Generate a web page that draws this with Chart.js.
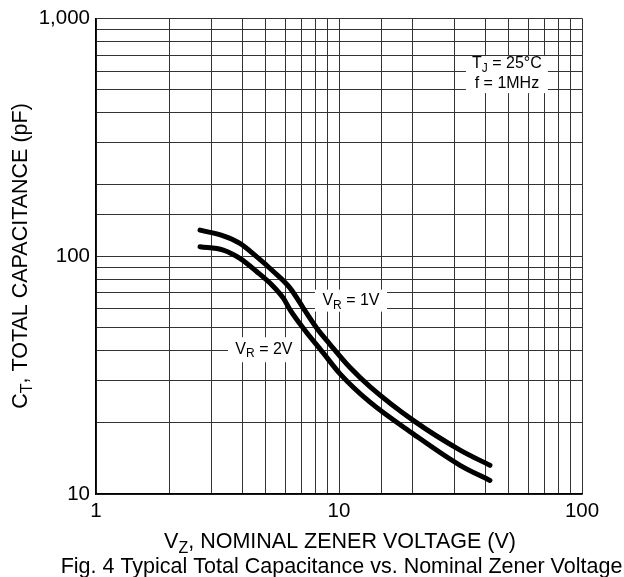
<!DOCTYPE html>
<html>
<head>
<meta charset="utf-8">
<script src="https://cdn.jsdelivr.net/npm/chart.js@4/dist/chart.umd.min.js"></script>
<style>
  html, body { margin: 0; padding: 0; background: #fff; }
</style>
</head>
<body>
<canvas id="graficoCap" width="624" height="577"></canvas>
<script>
// VR = 1V curve (upper)
const vz1 = [2.68, 3.34, 3.91, 4.58, 5.37, 6.29, 7.13, 8.09, 9.18, 11.1, 13.4, 20.2, 31.5, 41.8];
const ct1 = [128.6, 121.7, 113.1, 99.5, 86.2, 73.4, 60.5, 49.9, 42.6, 34.0, 28.3, 20.4, 15.3, 13.2];
// VR = 2V curve (lower)
const vz2 = [2.68, 3.34, 3.91, 4.58, 5.37, 5.90, 6.29, 7.13, 8.61, 10.1, 13.3, 20.2, 31.5, 41.8];
const ct2 = [109.6, 106.1, 97.9, 86.2, 74.6, 66.6, 59.5, 49.8, 39.2, 32.0, 24.5, 17.9, 13.2, 11.4];

const xLabels = [1, 10, 100];
const yLabels = [10, 100, 1000];

const FONT = '"Liberation Sans", Arial, sans-serif';

function drawRich(ctx, parts, x, y, size, align) {
    const subSize = Math.round(size * 0.75);
    let total = 0;
    parts.forEach(p => {
        ctx.font = (p.sub ? subSize : size) + 'px ' + FONT;
        total += ctx.measureText(p.t).width;
    });
    let cx = align === 'center' ? x - total / 2 : x;
    ctx.textAlign = 'left';
    ctx.textBaseline = 'middle';
    parts.forEach(p => {
        ctx.font = (p.sub ? subSize : size) + 'px ' + FONT;
        ctx.fillText(p.t, cx, p.sub ? y + size * 0.3 : y);
        cx += ctx.measureText(p.t).width;
    });
    return total;
}

const textos = {
    id: 'textos',
    beforeDatasetsDraw(chart) {
        const ctx = chart.ctx;
        const xs = chart.scales.x, ys = chart.scales.y;
        ctx.save();
        const notas = [
            { parts: [{ t: 'T' }, { t: 'J', sub: true }, { t: ' = 25°C' }], v: 49.1, c: 642 },
            { parts: [{ t: 'f = 1MHz' }], v: 49.1, c: 530 },
            { parts: [{ t: 'V' }, { t: 'R', sub: true }, { t: ' = 1V' }], v: 11.2, c: 65.0 },
            { parts: [{ t: 'V' }, { t: 'R', sub: true }, { t: ' = 2V' }], v: 4.91, c: 40.6 }
        ];
        // white boxes over the grid behind the notes
        ctx.fillStyle = '#fff';
        ctx.fillRect(xs.getPixelForValue(49.1) - 41, ys.getPixelForValue(642) - 8, 82, 37);
        ctx.fillRect(xs.getPixelForValue(11.2) - 36, ys.getPixelForValue(65.0) - 11, 72, 22);
        ctx.fillRect(xs.getPixelForValue(4.91) - 36, ys.getPixelForValue(40.6) - 12, 72, 25);
        ctx.fillStyle = '#000';
        notas.forEach(n => {
            drawRich(ctx, n.parts, xs.getPixelForValue(n.v), ys.getPixelForValue(n.c), 16, 'center');
        });
        ctx.restore();
    },
    afterDraw(chart) {
        const ctx = chart.ctx;
        ctx.save();
        ctx.fillStyle = '#000';
        drawRich(ctx, [{ t: 'V' }, { t: 'Z', sub: true }, { t: ', NOMINAL ZENER VOLTAGE (V)' }],
            340, 542, 21.5, 'center');
        drawRich(ctx, [{ t: 'Fig. 4 Typical Total Capacitance vs. Nominal Zener Voltage' }],
            341.5, 567, 21.5, 'center');
        ctx.translate(21, 256);
        ctx.rotate(-Math.PI / 2);
        drawRich(ctx, [{ t: 'C' }, { t: 'T', sub: true }, { t: ', TOTAL CAPACITANCE (pF)' }],
            0, 0, 21.5, 'center');
        ctx.restore();
    }
};

const curva = (xs, ys) => xs.map((v, i) => ({ x: v, y: ys[i] }));

new Chart(document.getElementById('graficoCap').getContext('2d'), {
    type: 'line',
    data: {
        datasets: [
            {
                label: 'VR = 1V',
                data: curva(vz1, ct1),
                borderColor: '#000',
                borderWidth: 5,
                pointRadius: 0,
                cubicInterpolationMode: 'monotone',
                borderCapStyle: 'round'
            },
            {
                label: 'VR = 2V',
                data: curva(vz2, ct2),
                borderColor: '#000',
                borderWidth: 5,
                pointRadius: 0,
                cubicInterpolationMode: 'monotone',
                borderCapStyle: 'round'
            }
        ]
    },
    options: {
        responsive: false,
        animation: false,
        devicePixelRatio: 1,
        layout: { padding: { left: 0, top: 15, right: 42, bottom: 53 } },
        plugins: {
            legend: { display: false },
            tooltip: { enabled: false }
        },
        scales: {
            x: {
                type: 'logarithmic',
                min: 1,
                max: 100,
                afterFit: s => { s.height = 30; },
                grid: { color: '#333', lineWidth: 1, drawTicks: false },
                border: { color: '#000', width: 1.5 },
                ticks: {
                    autoSkip: false,
                    maxRotation: 0,
                    padding: 5,
                    color: '#000',
                    font: { family: FONT, size: 20.5 },
                    callback: v => xLabels.includes(v) ? String(v) : ''
                }
            },
            y: {
                type: 'logarithmic',
                min: 10,
                max: 1000,
                afterFit: s => { s.width = 96; },
                grid: { color: '#333', lineWidth: 1, drawTicks: false },
                border: { color: '#000', width: 1.5 },
                ticks: {
                    autoSkip: false,
                    padding: 6,
                    color: '#000',
                    font: { family: FONT, size: 20.5 },
                    callback: v => yLabels.includes(v) ? v.toLocaleString('en-US') : ''
                }
            }
        }
    },
    plugins: [textos]
});
</script>
</body>
</html>
